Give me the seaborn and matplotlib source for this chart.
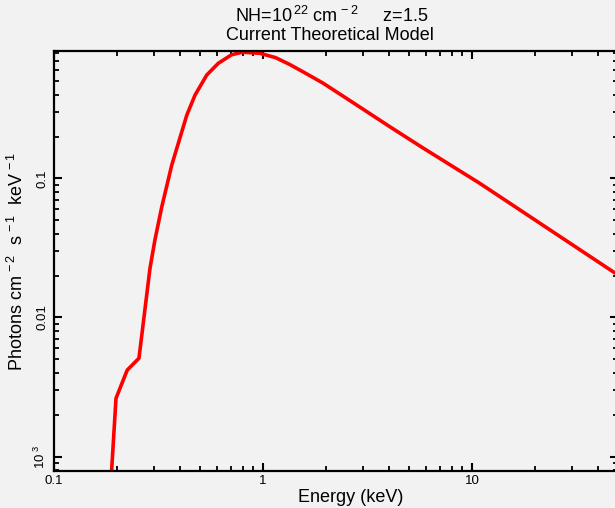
import numpy as np
import pandas as pd
import matplotlib
matplotlib.use("Agg")
import matplotlib.pyplot as plt
import seaborn as sns
from matplotlib.ticker import LogLocator, NullFormatter, FixedLocator, FixedFormatter

# Data (energy in keV, photons cm^-2 s^-1 keV^-1)
energy = [0.185, 0.198, 0.224, 0.255, 0.288, 0.304, 0.328, 0.366, 0.432, 0.473,
          0.538, 0.611, 0.708, 0.80, 0.967, 1.15, 1.346, 1.6, 1.943, 2.808, 4.05, 5.85,
          10.92, 48.3]
flux = [4.85e-4, 2.62e-3, 4.18e-3, 5.09e-3, 0.0226, 0.0360, 0.0625, 0.1246, 0.285, 0.397,
        0.553, 0.672, 0.775, 0.808, 0.793, 0.738, 0.658, 0.570, 0.483, 0.337, 0.235, 0.165,
        0.092, 0.0209]
xtick_vals = [0.1, 1, 10]
xtick_labels = ["0.1", "1", "10"]
ytick_vals = [1e-3, 0.01, 0.1]
ytick_labels = ["10$^{\\ 3}$", "0.01", "0.1"]

sns.set_theme(style="ticks")
bg = "#f2f2f2"
plt.rcParams.update({
    "font.family": ["Liberation Sans", "DejaVu Sans"],
    "mathtext.fontset": "custom",
    "mathtext.rm": "Liberation Sans",
    "mathtext.it": "Liberation Sans:italic",
    "mathtext.bf": "Liberation Sans:bold",
    "mathtext.default": "regular",
    "figure.facecolor": bg,
    "axes.facecolor": bg,
    "axes.edgecolor": "black",
    "axes.linewidth": 1.6,
    "text.color": "black",
    "xtick.color": "black",
    "ytick.color": "black",
    "xtick.labelcolor": "black",
    "ytick.labelcolor": "black",
})

W, H = 615, 508
fig = plt.figure(figsize=(W / 100, H / 100), dpi=100)
left, right, top, bottom = 54, 618, 51, 471
ax = fig.add_axes([left / W, (H - bottom) / H, (right - left) / W, (bottom - top) / H])

df = pd.DataFrame({"Energy": energy, "Flux": flux})
sns.lineplot(data=df, x="Energy", y="Flux", ax=ax, color="#ff0000", linewidth=2.6,
             sort=False, estimator=None)

ax.set_xscale("log")
ax.set_yscale("log")
ax.set_xlim(0.1, 50)
ax.set_ylim(7.87e-4, 0.824)

ax.xaxis.set_major_locator(FixedLocator(xtick_vals))
ax.xaxis.set_major_formatter(FixedFormatter(xtick_labels))
ax.xaxis.set_minor_locator(LogLocator(base=10, subs=np.arange(2, 10)))
ax.xaxis.set_minor_formatter(NullFormatter())
ax.yaxis.set_major_locator(FixedLocator(ytick_vals))
ax.yaxis.set_major_formatter(FixedFormatter(ytick_labels))
ax.yaxis.set_minor_locator(LogLocator(base=10, subs=np.arange(2, 10)))
ax.yaxis.set_minor_formatter(NullFormatter())

ax.tick_params(which="both", direction="in", top=True, right=True, colors="black")
ax.tick_params(which="major", length=6, width=1.5)
ax.tick_params(which="minor", length=3.5, width=1.3)
ax.tick_params(axis="x", which="major", labelsize=9.5, pad=3)
ax.tick_params(axis="y", which="major", labelsize=9.5, pad=4)
for lab in ax.get_yticklabels():
    lab.set_rotation(90)
    lab.set_va("center")
ax.set_xlabel("")
ax.set_ylabel("")
for s in ax.spines.values():
    s.set_linewidth(1.6)

fig.text(332 / W, 1 - 16 / H, "NH=10$^{\\,22}$ cm$^{\\,-2}$     z=1.5",
         ha="center", va="center", fontsize=13)
fig.text(329.5 / W, 1 - 35 / H, "Current Theoretical Model",
         ha="center", va="center", fontsize=13)
fig.text(351 / W, 1 - 497 / H, "Energy (keV)", ha="center", va="center", fontsize=13)
fig.text(17 / W, 1 - 261.5 / H, "Photons cm$^{\\,-2}$  s$^{\\,-1}$  keV$^{\\,-1}$",
         ha="center", va="center", rotation=90, fontsize=13)

fig.savefig("out.png", dpi=100, facecolor=bg)
